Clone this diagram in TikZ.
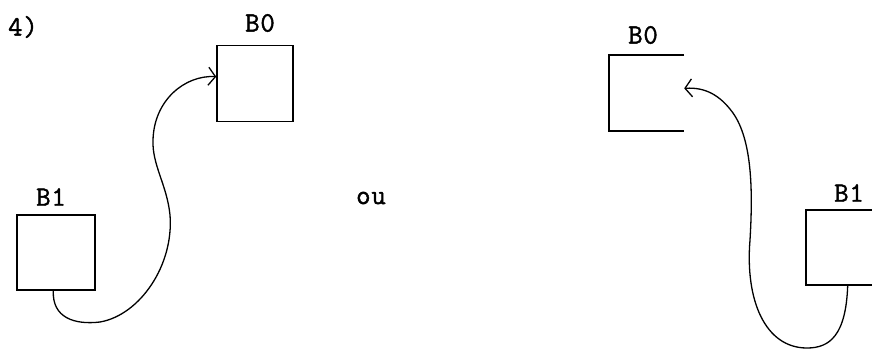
\documentclass[tikz,border=0pt]{standalone}
\usepackage{fontspec}
\newfontfamily\machine{Latin Modern Mono}[LetterSpace=3, FakeBold=1.5]
\usetikzlibrary{arrows.meta, positioning}

\begin{document}
\begin{tikzpicture}[x=1pt,y=-1pt,
    bloc/.style={draw, line width=1.5pt, minimum width=76pt, minimum height=76pt, inner sep=0pt},
    bord/.style={line width=1.5pt},
    etiq/.style={font=\machine\fontsize{28}{30}\selectfont, inner sep=0pt},
    lien/.style={line width=1.3pt, -{Straight Barb[length=7pt, width=18pt, line width=1.3pt]}}]
  \useasboundingbox (0,0) rectangle (872,350);

  \node[etiq] (num) at (23,27) {4)};
  \node[etiq] (ou) at (371,198) {ou};

  % first case: both blocks closed
  \node[bloc] (b0l) at (255,83.5) {};
  \node[bloc, minimum width=78pt, minimum height=75pt] (b1l) at (56,252.5) {};
  \node[etiq] (lb0l) at (260,23) {B0};
  \node[etiq] (lb1l) at (51,197) {B1};
  \draw[lien] (b1l.-94) .. controls (52,318) and (75,325) .. (100,322)
      .. controls (140,315) and (174,265) .. (170,215)
      .. controls (167,185) and (152,165) .. (153,140)
      .. controls (154,100) and (185,75) .. (b0l.170);

  % second case: blocks open on the right
  \node[minimum width=75pt, minimum height=76pt, inner sep=0pt] (b0r) at (646.5,93) {};
  \node[minimum width=66pt, minimum height=75pt, inner sep=0pt] (b1r) at (839,247.5) {};
  \draw[bord] (b0r.north east) -- (b0r.north west) -- (b0r.south west) -- (b0r.south east);
  \draw[bord] (b1r.north east) -- (b1r.north west) -- (b1r.south west) -- (b1r.south east);
  \node[etiq] (lb0r) at (643,35) {B0};
  \node[etiq] (lb1r) at (849,193) {B1};
  \draw[lien] (b1r.-77) .. controls (846,335) and (830,348) .. (807,348)
      .. controls (765,348) and (745,300) .. (750,240)
      .. controls (753,190) and (752,140) .. (733,113)
      .. controls (720,95) and (705,87) .. (b0r.7);
\end{tikzpicture}
\end{document}
